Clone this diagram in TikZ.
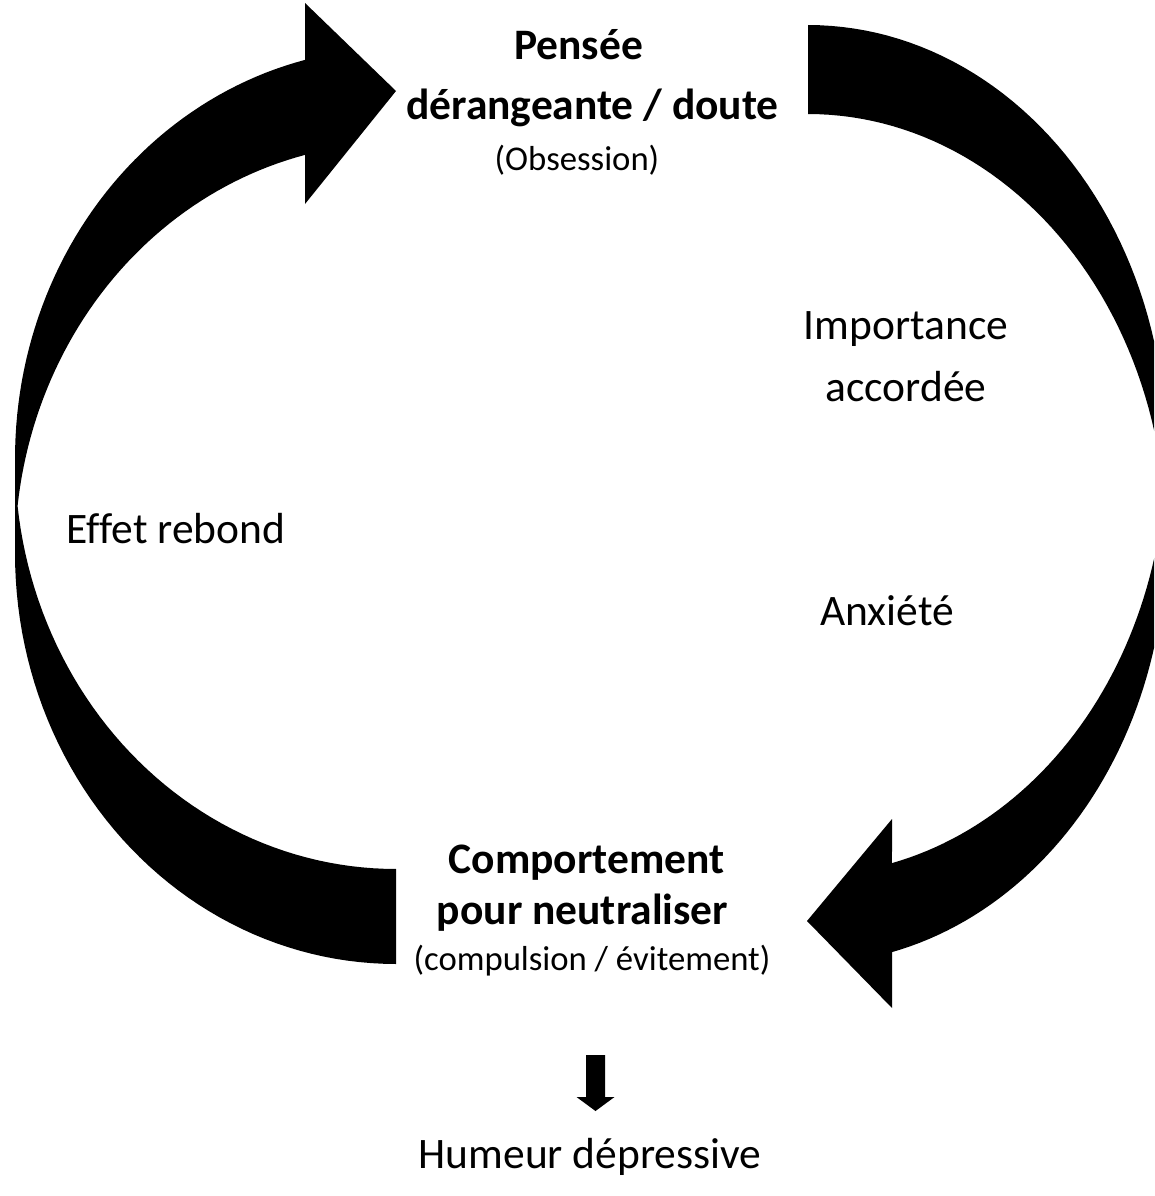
\documentclass[tikz,border=0pt]{standalone}
\usepackage{fontspec}
\setmainfont{Carlito}[Ligatures=NoCommon]
\tikzset{
  txt/.style={font=\fontsize{43.5}{52}\selectfont, anchor=base, inner sep=0pt},
  txtb/.style={font=\fontsize{43.5}{52}\selectfont\bfseries, anchor=base, inner sep=0pt},
  txts/.style={font=\fontsize{34.7}{42}\selectfont, anchor=base, inner sep=0pt},
  band/.style={fill=black, draw=none}
}
\begin{document}
\begin{tikzpicture}[x=1pt,y=-1pt]
\path[use as bounding box, clip] (0,0) rectangle (1154,1196);
\fill[white] (0,0) rectangle (1154,1196);

% left curved arrow (points right, at the top)
\fill[band] plot[domain=90:180, samples=50] ({396+381*cos(\x)}, {553.5+410.5*sin(\x)})
  -- plot[domain=180:256.2, samples=50] ({396+381*cos(\x)}, {458.5+410.5*sin(\x)})
  -- (305,3) -- (396,91) -- (305,204)
  -- plot[domain=256.2:186.64, samples=50] ({396+381*cos(\x)}, {553.5+410.5*sin(\x)})
  -- plot[domain=173.36:90, samples=50] ({396+381*cos(\x)}, {458.5+410.5*sin(\x)})
  -- cycle;

% right curved arrow (points left, at the bottom)
\fill[band] plot[domain=-90:0, samples=50] ({808+358*cos(\x)}, {450+425*sin(\x)})
  -- plot[domain=0:76.43, samples=50] ({808+358*cos(\x)}, {539+425*sin(\x)})
  -- (892,1008) -- (807,921) -- (892,819)
  -- plot[domain=76.43:6.01, samples=50] ({808+358*cos(\x)}, {450+425*sin(\x)})
  -- plot[domain=-6.01:-90, samples=50] ({808+358*cos(\x)}, {539+425*sin(\x)})
  -- cycle;

% texts
\node[txtb] (p1) at (578.5,60) {Pensée};
\node[txtb] (p2) at (592.5,120) {dérangeante / doute};
\node[txts] (p3) at (577,170) {(Obsession)};
\node[txt] (imp1) at (906,339) {Importance};
\node[txt] (imp2) at (906,401) {accordée};
\node[txt] (anx) at (887,625) {Anxiété};
\node[txt] (eff) at (176,543) {Effet rebond};
\node[txtb] (c1) at (586.5,873) {Comportement};
\node[txtb] (c2) at (582.5,924) {pour neutraliser};
\node[txts] (c3) at (592,970) {(compulsion / évitement)};
\node[txt] (hum) at (590,1168) {Humeur dépressive};

% small down arrow
\coordinate (sa) at (595.5,1055);
\fill[band] ([xshift=-9.5pt]sa) -- ([xshift=9.5pt]sa) -- ([xshift=9.5pt,yshift=-42pt]sa)
  -- ([xshift=19pt,yshift=-42pt]sa) -- ([yshift=-56pt]sa) -- ([xshift=-19pt,yshift=-42pt]sa)
  -- ([xshift=-9.5pt,yshift=-42pt]sa) -- cycle;
\end{tikzpicture}
\end{document}
